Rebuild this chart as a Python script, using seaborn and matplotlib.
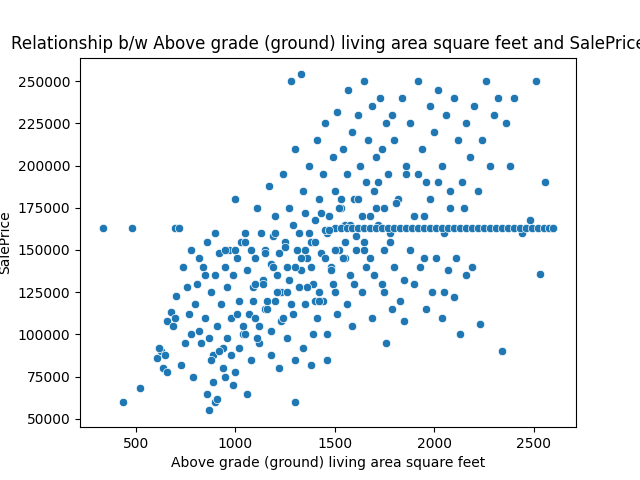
import matplotlib
matplotlib.use("Agg")
import matplotlib.pyplot as plt
import seaborn as sns
import pandas as pd

# points (approximate)
gr_liv_area = [
    334, 480, 438, 520, 700, 720, 610, 630, 640, 650, 660, 680, 690, 705, 730, 750, 760, 770, 780, 790,
    800, 810, 820, 830, 840, 850, 860, 870, 880, 890, 900, 910, 920, 930, 940, 950, 960, 970, 980, 990,
    1000, 1010, 1020, 1030, 1040, 1050, 1060, 1070, 1080, 1090, 1100, 1110, 1120, 1130, 1140, 1150, 1160, 1170, 1180, 1190,
    1200, 1210, 1220, 1230, 1240, 1250, 1260, 1270, 1280, 1290, 1300, 1310, 1320, 1330, 1340, 1350, 1360, 1370, 1380, 1390,
    1400, 1410, 1420, 1430, 1440, 1450, 1460, 1470, 1480, 1490, 1500, 1510, 1520, 1530, 1540, 1550, 1560, 1570, 1580, 1590,
    1600, 1610, 1620, 1630, 1640, 1650, 1660, 1670, 1680, 1690, 1700, 1710, 1720, 1730, 1740, 1750, 1760, 1770, 1780, 1790,
    1800, 1820, 1840, 1860, 1880, 1900, 1920, 1940, 1960, 1980, 2000, 2020, 2040, 2060, 2080, 2100, 2120, 2140, 2160, 2180,
    2200, 2220, 2240, 2260, 2280, 2300, 2320, 2340, 2360, 2380, 2400, 2440, 2480, 2510, 2530, 2560, 2600,
    860, 880, 900, 920, 950, 980, 1000, 1020, 1050, 1080, 1100, 1120, 1150, 1180, 1200, 1230, 1260, 1290, 1320, 1350,
    870, 890, 910, 940, 960, 990, 1010, 1040, 1060, 1090, 1110, 1140, 1160, 1190, 1210, 1240, 1270, 1300, 1330, 1360,
    1380, 1400, 1420, 1450, 1480, 1500, 1520, 1550, 1580, 1600, 1620, 1650, 1680, 1700, 1720, 1750, 1780, 1800, 1830, 1860,
    1390, 1410, 1440, 1460, 1490, 1510, 1540, 1560, 1590, 1610, 1640, 1660, 1690, 1710, 1740, 1760, 1790, 1810, 1850, 1880,
    1900, 1930, 1960, 1990, 2010, 2040, 2070, 2100, 2130, 2160, 1920, 1950, 1980, 2020, 2050, 2080, 2110, 2150, 2190, 2230,
    1500, 1530, 1560, 1590, 1620, 1650, 1680, 1710, 1740, 1770, 1800, 1830, 1860, 1890, 1920, 1950, 1980, 2010, 2040, 2070,
    2100, 2130, 2160, 2190, 2220, 2250, 2280, 2310, 2340, 2370, 2400, 2430, 2460, 2490, 2520, 2550, 2580, 2600,
    620, 660, 700, 740, 780, 820, 850, 900, 950, 1000, 1050, 1100, 1150, 1200, 1250, 1300, 1350, 1400, 1450, 1500,
    1180, 1220, 1260, 1300, 1340, 1380, 1420, 1460, 1550, 1650, 1750, 1850, 1950, 2050, 1280, 1330, 1370, 1430, 1470, 1530,
]
sale_price = [
    163000, 163000, 60000, 68000, 163000, 163000, 86000, 90000, 80000, 88000, 108000, 113000, 105000, 123000, 82000, 95000, 128000, 112000, 100000, 75000,
    118000, 130000, 102000, 95000, 140000, 110000, 155000, 98000, 125000, 88000, 135000, 105000, 148000, 118000, 92000, 140000, 128000, 150000, 110000, 135000,
    180000, 145000, 120000, 155000, 100000, 160000, 138000, 112000, 150000, 128000, 145000, 175000, 105000, 160000, 132000, 150000, 120000, 188000, 142000, 158000,
    170000, 135000, 148000, 125000, 195000, 155000, 140000, 175000, 118000, 165000, 210000, 150000, 160000, 138000, 185000, 172000, 145000, 200000, 155000, 130000,
    168000, 215000, 180000, 148000, 195000, 225000, 160000, 170000, 140000, 205000, 185000, 232000, 150000, 175000, 210000, 165000, 195000, 245000, 135000, 220000,
    180000, 158000, 230000, 200000, 170000, 250000, 190000, 215000, 145000, 235000, 185000, 205000, 165000, 240000, 210000, 175000, 225000, 195000, 155000, 230000,
    215000, 180000, 240000, 200000, 225000, 170000, 250000, 210000, 190000, 235000, 220000, 245000, 200000, 230000, 175000, 240000, 215000, 190000, 225000, 205000,
    235000, 185000, 215000, 250000, 200000, 230000, 240000, 90000, 225000, 200000, 240000, 160000, 168000, 250000, 136000, 190000, 163000,
    65000, 85000, 60000, 90000, 75000, 88000, 78000, 92000, 100000, 85000, 110000, 95000, 115000, 102000, 120000, 108000, 125000, 112000, 128000, 118000,
    55000, 72000, 62000, 80000, 98000, 70000, 112000, 105000, 65000, 120000, 98000, 130000, 115000, 140000, 125000, 110000, 132000, 60000, 145000, 128000,
    140000, 155000, 125000, 162000, 138000, 150000, 175000, 145000, 165000, 130000, 180000, 150000, 170000, 135000, 190000, 125000, 160000, 140000, 120000, 195000,
    100000, 110000, 120000, 85000, 130000, 112000, 145000, 118000, 105000, 150000, 125000, 140000, 110000, 175000, 130000, 95000, 115000, 178000, 108000, 150000,
    130000, 140000, 115000, 125000, 145000, 110000, 138000, 122000, 100000, 135000, 195000, 170000, 180000, 190000, 160000, 185000, 145000, 175000, 140000, 106000,
    163000, 163000, 163000, 163000, 163000, 163000, 163000, 163000, 163000, 163000, 163000, 163000, 163000, 163000, 163000, 163000, 163000, 163000, 163000, 163000,
    163000, 163000, 163000, 163000, 163000, 163000, 163000, 163000, 163000, 163000, 163000, 163000, 163000, 163000, 163000, 163000, 163000, 163000,
    92000, 78000, 110000, 140000, 150000, 145000, 135000, 160000, 150000, 150000, 155000, 130000, 148000, 160000, 152000, 140000, 150000, 120000, 145000, 125000,
    88000, 80000, 98000, 85000, 92000, 82000, 120000, 100000, 155000, 155000, 150000, 132000, 145000, 125000, 250000, 254000, 160000, 172000, 162000, 180000,
]

df = pd.DataFrame({"Above grade (ground) living area square feet": gr_liv_area,
                   "SalePrice": sale_price})

fig, ax = plt.subplots(figsize=(6.4, 4.8), dpi=100)
sns.scatterplot(data=df, x="Above grade (ground) living area square feet", y="SalePrice", ax=ax)
ax.set_title("Relationship b/w Above grade (ground) living area square feet and SalePrice")
ax.set_xticks([500, 1000, 1500, 2000, 2500])
plt.savefig("out.png")
